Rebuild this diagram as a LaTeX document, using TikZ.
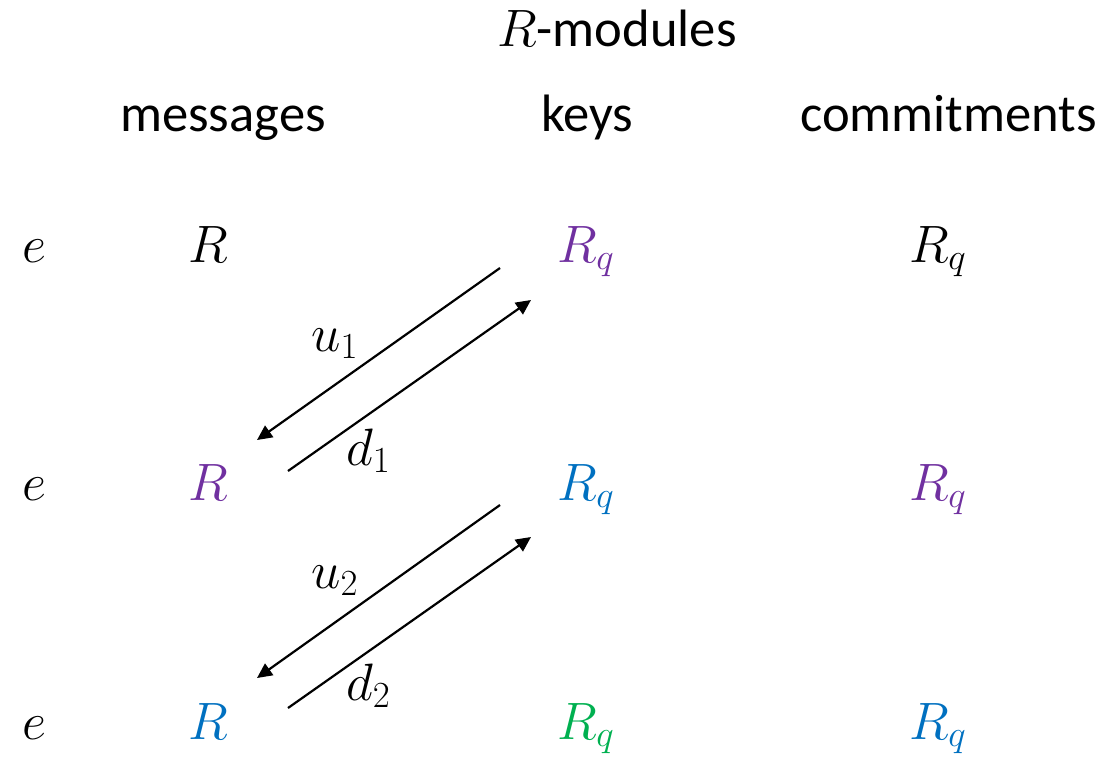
\RequirePackage{fix-cm}
\documentclass[tikz,border=0pt]{standalone}
\usepackage{fontspec}
\setmainfont{Carlito}
\usetikzlibrary{arrows.meta}
\definecolor{mpurple}{HTML}{7030A0}
\definecolor{mblue}{HTML}{0070C0}
\definecolor{mgreen}{HTML}{00B050}
\begin{document}
\begin{tikzpicture}[x=1pt,y=-1pt,
  lbl/.style={inner sep=0pt, anchor=base west, font=\fontsize{52.6}{60}\selectfont},
  arr/.style={-{Triangle[length=15pt,width=14pt]}, line width=2.2pt}]
\useasboundingbox (0,0) rectangle (1102,758);
% headers
\node[lbl] (hmod) at (497,46) {$R$-modules};
\node[lbl] (hmsg) at (120,131) {messages};
\node[lbl] (hkey) at (541,131) {keys};
\node[lbl] (hcom) at (800,131) {commitments};
% row 1
\node[lbl] (e1) at (22,262) {$e$};
\node[lbl] (m1) at (188,262) {$R$};
\node[lbl,text=mpurple] (k1) at (557,262) {$R_q$};
\node[lbl] (c1) at (909,262) {$R_q$};
% row 2
\node[lbl] (e2) at (22,500) {$e$};
\node[lbl,text=mpurple] (m2) at (188,500) {$R$};
\node[lbl,text=mblue] (k2) at (557,500) {$R_q$};
\node[lbl,text=mpurple] (c2) at (909,500) {$R_q$};
% row 3
\node[lbl] (e3) at (22,739) {$e$};
\node[lbl,text=mblue] (m3) at (188,739) {$R$};
\node[lbl,text=mgreen] (k3) at (557,739) {$R_q$};
\node[lbl,text=mblue] (c3) at (909,739) {$R_q$};
% arrow end points
\coordinate (u1s) at (500,268);
\coordinate (u1e) at (257,440);
\coordinate (d1s) at (288,471);
\coordinate (d1e) at (531,300);
\coordinate (u2s) at (500,505);
\coordinate (u2e) at (257,678);
\coordinate (d2s) at (288,708);
\coordinate (d2e) at (531,537);
\draw[arr] (u1s) -- (u1e);
\draw[arr] (d1s) -- (d1e);
\draw[arr] (u2s) -- (u2e);
\draw[arr] (d2s) -- (d2e);
% labels
\node[lbl] (lu1) at (311,351) {$u_1$};
\node[lbl] (ld1) at (346,465) {$d_1$};
\node[lbl] (lu2) at (311,588) {$u_2$};
\node[lbl] (ld2) at (346,700) {$d_2$};
\end{tikzpicture}
\end{document}
